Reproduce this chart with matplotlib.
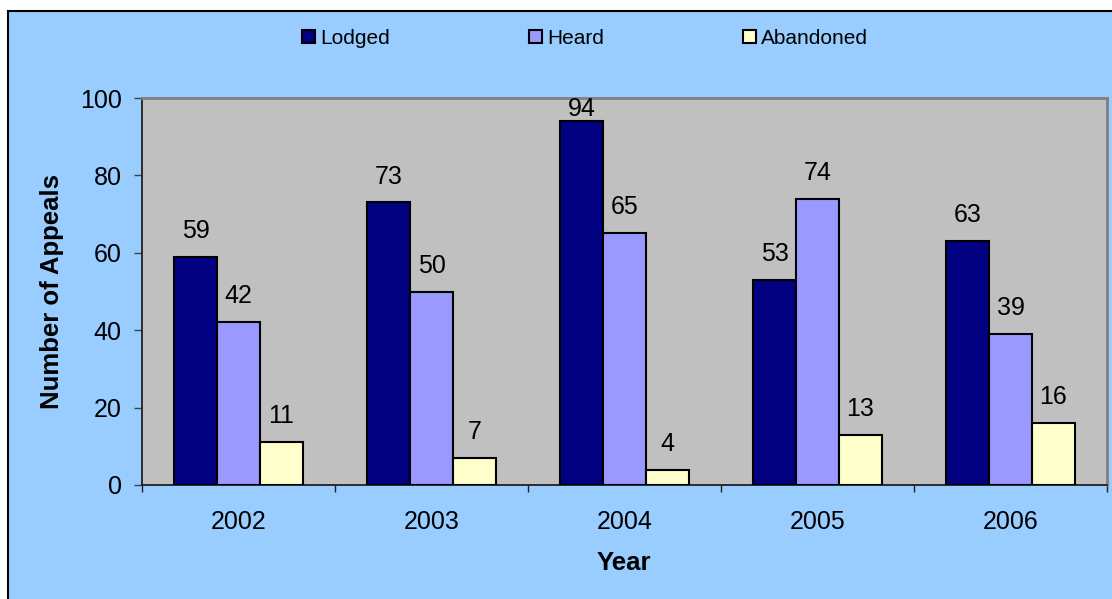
import matplotlib
matplotlib.use("Agg")
import matplotlib.pyplot as plt
from matplotlib.patches import Rectangle
import numpy as np

plt.rcParams['font.family'] = ['Liberation Sans', 'DejaVu Sans']

years = ['2002', '2003', '2004', '2005', '2006']
series_names = ['Lodged', 'Heard', 'Abandoned']
lodged = [59, 73, 94, 53, 63]
heard = [42, 50, 65, 74, 39]
abandoned = [11, 7, 4, 13, 16]
colors = ['#000080', '#9999FF', '#FFFFCC']
yticks = [0, 20, 40, 60, 80, 100]

W, H = 1112, 599
fig = plt.figure(figsize=(W / 100, H / 100), dpi=100, facecolor='white')

# background panel with black top/left border
bg = Rectangle((8 / W, -0.1), 1.2, 1 - 11 / H + 0.1, transform=fig.transFigure,
               facecolor='#99CCFF', edgecolor='black', linewidth=1.5, zorder=-10)
fig.patches.append(bg)

ax = fig.add_axes([142 / W, (H - 485) / H, (1107 - 142) / W, (485 - 98) / H])
ax.set_facecolor('#C0C0C0')

x = np.arange(len(years))
bw = 1 / 4.5
data = [lodged, heard, abandoned]
ymax = 100
for i, (vals, name, c) in enumerate(zip(data, series_names, colors)):
    pos = x + (i - 1) * bw
    ax.bar(pos, vals, width=bw, color=c, edgecolor='black', linewidth=1.5,
           label=name, zorder=3)
    for px, v in zip(pos, vals):
        ty = min(v + 4.9, 95.3)
        ax.text(px, ty, str(v), ha='center', va='baseline', fontsize=18,
                color='black', zorder=4)

ax.set_xlim(-0.5, len(years) - 0.5)
ax.set_ylim(0, ymax)
ax.set_yticks(yticks)
ax.set_yticklabels([str(t) for t in yticks])
ax.tick_params(axis='y', direction='out', length=6, width=1, color='#404040',
               labelsize=18, pad=8.5)

ax.set_xticks(np.arange(len(years) + 1) - 0.5)
ax.set_xticklabels([''] * (len(years) + 1))
ax.set_xticks(x, minor=True)
ax.set_xticklabels(years, minor=True)
ax.tick_params(axis='x', which='major', direction='out', length=5, width=1,
               color='#202020')
ax.tick_params(axis='x', which='minor', length=0, labelsize=18, pad=18)

for s in ['top', 'right']:
    ax.spines[s].set_color('#808080')
    ax.spines[s].set_linewidth(2)
for s in ['left', 'bottom']:
    ax.spines[s].set_color('#202020')
    ax.spines[s].set_linewidth(1.3)

fig.text(52 / W, 1 - 291 / H, 'Number of Appeals', rotation=90, ha='center',
         va='center', fontsize=18.5, fontweight='bold')
fig.text(624 / W, 1 - 563 / H, 'Year', ha='center', va='center', fontsize=18.5,
         fontweight='bold')

leg = fig.legend(loc='center', bbox_to_anchor=(585 / W, 1 - 38.5 / H), ncol=3,
                 frameon=False, fontsize=15, handlelength=0.6, handleheight=0.6,
                 handletextpad=0.25, columnspacing=6.7, borderaxespad=0)

fig.savefig('out.png', dpi=100, facecolor=fig.get_facecolor())
